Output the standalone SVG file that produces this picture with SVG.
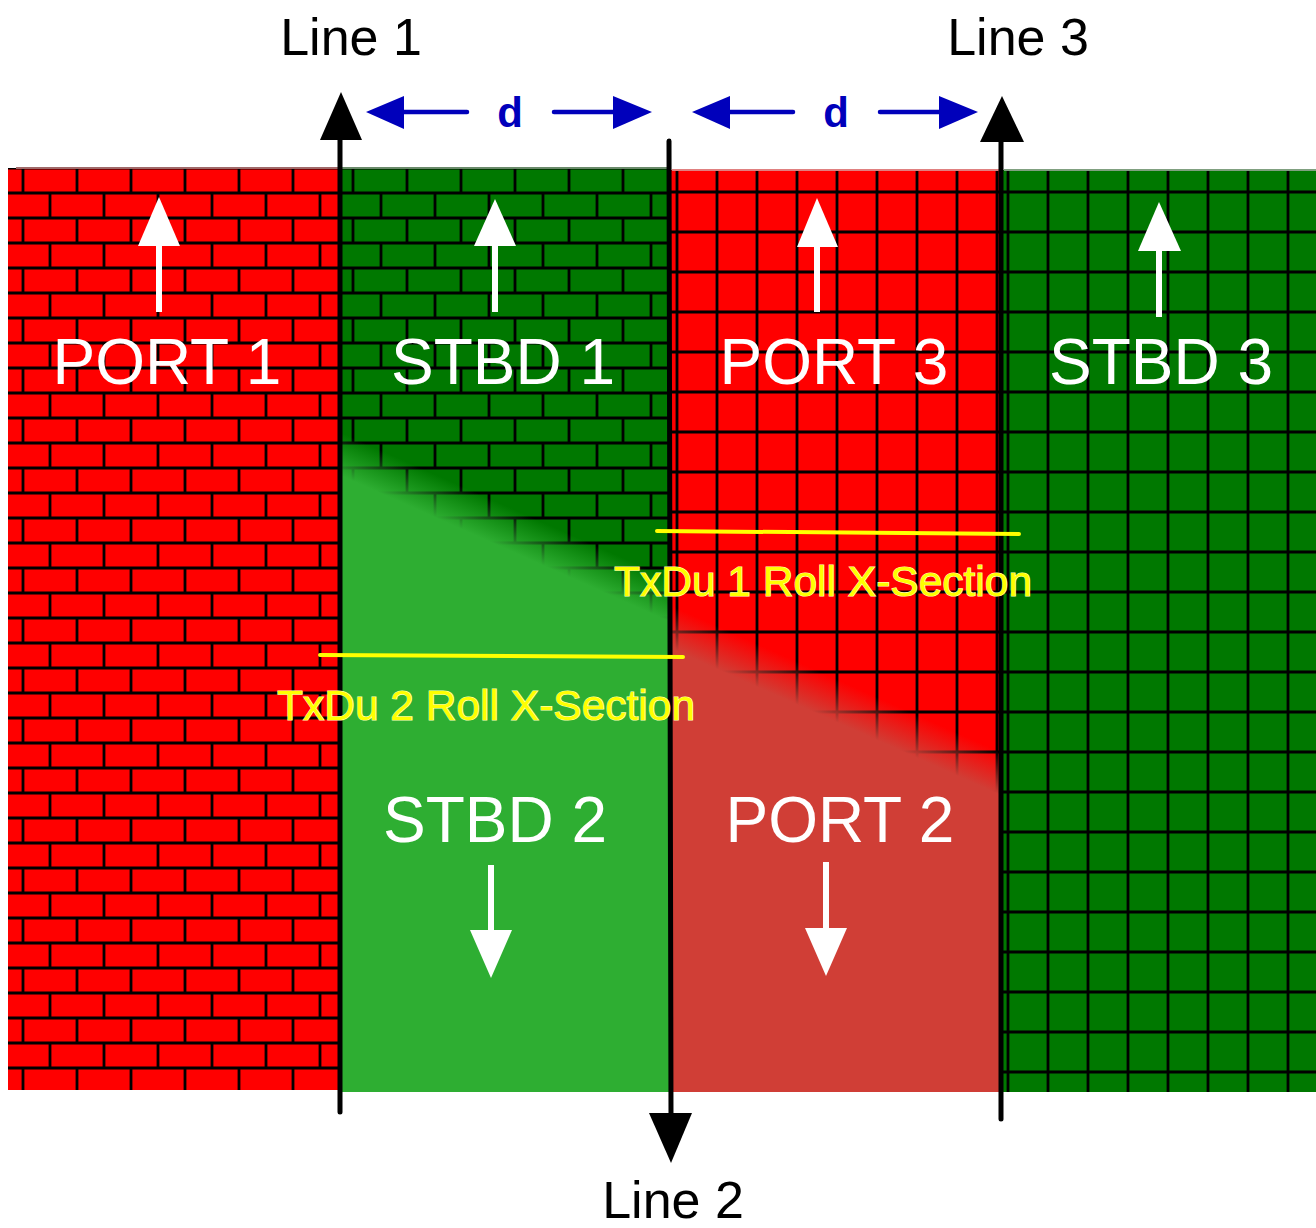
<svg xmlns="http://www.w3.org/2000/svg" width="1316" height="1228" viewBox="0 0 1316 1228">
<style>
.lbl{font-family:"Liberation Sans",Arial,sans-serif;font-size:64px;fill:#ffffff;text-anchor:middle}
.ln{font-family:"Liberation Sans",Arial,sans-serif;font-size:52px;fill:#000000;text-anchor:middle}
.d{font-family:"Liberation Sans",Arial,sans-serif;font-size:42px;font-weight:bold;fill:#0000bb;text-anchor:middle}
.yt{font-family:"Liberation Sans",Arial,sans-serif;font-size:42.5px;fill:#ffff00;stroke:#ffffb0;stroke-width:1.2;paint-order:stroke}
.bl{stroke:#000;stroke-width:2.8;fill:none}
.vline{stroke:#000;stroke-width:5;stroke-linecap:round;fill:none}
.warr{stroke:#fff;stroke-width:6;fill:none}
.barr{stroke:#0000bb;stroke-width:4.5;stroke-linecap:round;fill:none}
.yl{stroke:#ffff00;stroke-width:4;stroke-linecap:round}
</style>
<defs>
<pattern id="brickRed" patternUnits="userSpaceOnUse" x="23" y="168" width="54" height="50">
<rect width="54" height="50" fill="#ff0000"/>
<path class="bl" d="M0 0H54M0 25H54M0 50H54M0 0V25M54 0V25M27 25V50"/>
</pattern>
<pattern id="brickGreen" patternUnits="userSpaceOnUse" x="353" y="168" width="54" height="50">
<rect width="54" height="50" fill="#007800"/>
<path class="bl" d="M0 0H54M0 25H54M0 50H54M0 0V25M54 0V25M28 25V50"/>
</pattern>
<pattern id="gridRed" patternUnits="userSpaceOnUse" x="677" y="192" width="40" height="40">
<rect width="40" height="40" fill="#ff0000"/>
<path class="bl" d="M0 0H40M0 40H40M0 0V40M40 0V40"/>
</pattern>
<pattern id="gridGreen" patternUnits="userSpaceOnUse" x="1008" y="192" width="40" height="40">
<rect width="40" height="40" fill="#007800"/>
<path class="bl" d="M0 0H40M0 40H40M0 0V40M40 0V40"/>
</pattern>
<linearGradient id="fadeGreen" gradientUnits="userSpaceOnUse" x1="513" y1="509" x2="497" y2="545">
<stop offset="0" stop-color="#2eae32" stop-opacity="0"/>
<stop offset="1" stop-color="#2eae32" stop-opacity="1"/>
</linearGradient>
<linearGradient id="fadeRed" gradientUnits="userSpaceOnUse" x1="843" y1="682" x2="827" y2="718">
<stop offset="0" stop-color="#d03e36" stop-opacity="0"/>
<stop offset="1" stop-color="#d03e36" stop-opacity="1"/>
</linearGradient>
</defs>
<rect width="1316" height="1228" fill="#ffffff"/>

<g id="port1">
<rect x="8" y="168" width="332" height="922" fill="url(#brickRed)"/>
<line x1="16" y1="168" x2="340" y2="168" stroke="#a06a6a" stroke-width="2"/>
<path class="warr" d="M159 245V312"/>
<polygon points="138,246 180,246 159,197" fill="#fff"/>
<text class="lbl" x="167" y="384">PORT 1</text>
</g>

<g id="stbd1-stbd2">
<rect x="340" y="168" width="330" height="924" fill="url(#brickGreen)"/>
<rect x="340" y="168" width="330" height="924" fill="url(#fadeGreen)"/>
<line x1="340" y1="168" x2="670" y2="168" stroke="#6a8a6a" stroke-width="2"/>
<path class="warr" d="M495 245V312"/>
<polygon points="474,246 516,246 495,199" fill="#fff"/>
<text class="lbl" x="503" y="384">STBD 1</text>
<text class="lbl" x="495" y="842">STBD 2</text>
<path class="warr" d="M491 865V932"/>
<polygon points="470,930 512,930 491,978" fill="#fff"/>
</g>

<g id="port3-port2">
<rect x="670" y="170" width="332" height="922" fill="url(#gridRed)"/>
<rect x="670" y="170" width="332" height="922" fill="url(#fadeRed)"/>
<line x1="672" y1="170" x2="1000" y2="170" stroke="#e08080" stroke-width="2"/>
<path class="warr" d="M817 245V312"/>
<polygon points="797,247 838,247 817,198" fill="#fff"/>
<text class="lbl" x="834" y="384">PORT 3</text>
<text class="lbl" x="840" y="842">PORT 2</text>
<path class="warr" d="M826 862V930"/>
<polygon points="805,928 847,928 826,976" fill="#fff"/>
</g>

<g id="stbd3">
<rect x="1002" y="170" width="314" height="922" fill="url(#gridGreen)"/>
<line x1="1004" y1="170" x2="1316" y2="170" stroke="#80a080" stroke-width="2"/>
<path class="warr" d="M1159 248V317"/>
<polygon points="1138,251 1181,251 1159,202" fill="#fff"/>
<text class="lbl" x="1161" y="384">STBD 3</text>
</g>

<g id="connectors">
<path class="vline" d="M340 1112V136"/>
<polygon points="320,140 362,140 341,92" fill="#000"/>
<path class="vline" d="M669 141L671 1117"/>
<polygon points="649,1113 692,1113 671,1163" fill="#000"/>
<path class="vline" d="M1001 1119V138"/>
<polygon points="980,142 1024,142 1002,96" fill="#000"/>
<path class="barr" d="M400 112H467"/>
<polygon points="366,112 404,96 404,129" fill="#0000bb"/>
<path class="barr" d="M554 112H616"/>
<polygon points="652,112 613,96 613,129" fill="#0000bb"/>
<path class="barr" d="M726 112H793"/>
<polygon points="692,112 730,96 730,129" fill="#0000bb"/>
<path class="barr" d="M880 112H942"/>
<polygon points="978,112 939,96 939,129" fill="#0000bb"/>
</g>

<g id="sections">
<line class="yl" x1="657" y1="531" x2="1019" y2="534"/>
<text class="yt" x="614" y="596">TxDu 1 Roll X-Section</text>
<line class="yl" x1="320" y1="655" x2="683" y2="657"/>
<text class="yt" x="277" y="720">TxDu 2 Roll X-Section</text>
</g>

<g id="labels">
<text class="ln" x="351" y="55">Line 1</text>
<text class="ln" x="1018" y="55">Line 3</text>
<text class="ln" x="673" y="1218">Line 2</text>
<text class="d" x="510" y="127">d</text>
<text class="d" x="836" y="127">d</text>
</g>
</svg>
